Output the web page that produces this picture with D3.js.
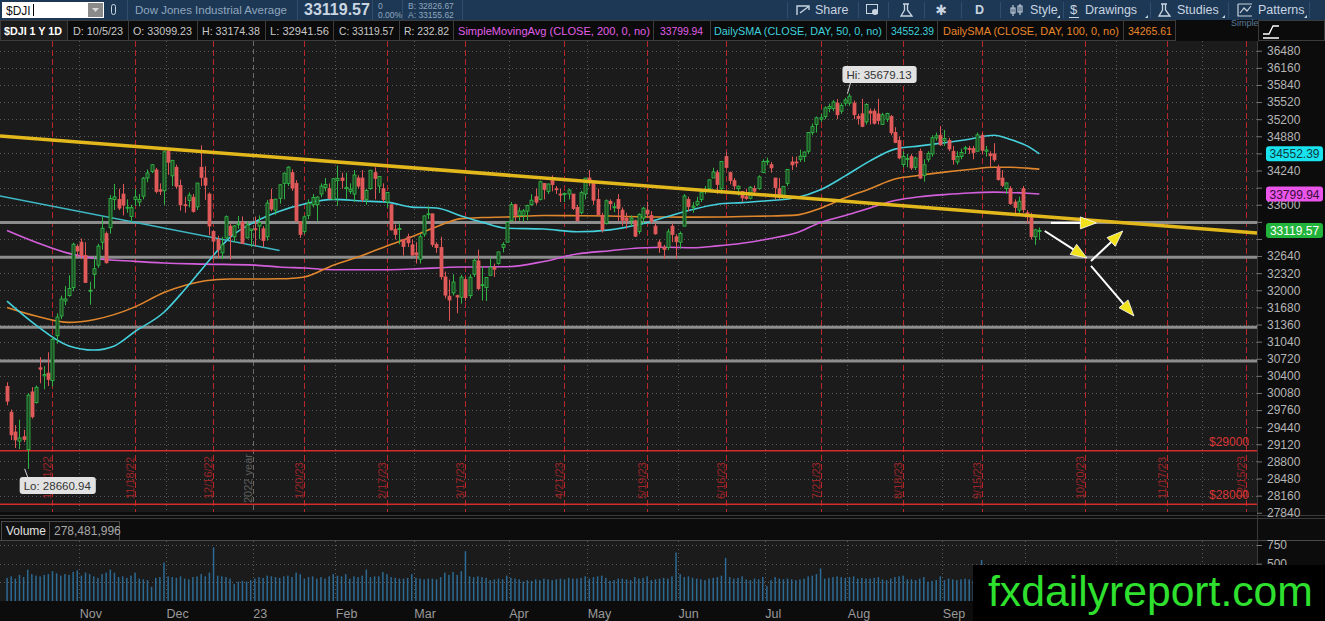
<!DOCTYPE html>
<html>
<head>
<meta charset="utf-8">
<script src="https://cdn.jsdelivr.net/npm/d3@7"></script>
<style>
body { margin: 0; background: #0b0b0b; overflow: hidden; }
svg { display: block; font-family: "Liberation Sans", Arial, sans-serif; }
</style>
</head>
<body>
<div id="chart-area"></div>
<script>
/*
*    $DJI 1Y daily chart
*/

// Daily bars [open, high, low, close], one array per month
var oct22 = [[30200,30280,29850,29927],[29720,29770,29200,29297],[29350,29480,29050,29203],[29180,29580,29030,29239],[29260,29390,29160,29211],[29020,30080,28660.94,30039],[30100,30190,29600,29635],[29900,30220,29880,30186],[30550,30750,30260,30524],[30400,30580,30150,30424],[30450,30840,30210,30334],[30310,31120,30200,31083],[31150,31570,31000,31500],[31520,31900,31460,31837],[31800,32080,31720,31839],[31900,32280,31880,32033],[32050,32890,31980,32862],[32820,32860,32620,32733]];
var nov22 = [[32900,32970,32580,32653],[32650,32900,32140,32148],[32000,32160,31730,32001],[32300,32620,32030,32403],[32470,32870,32420,32827],[32900,33380,32760,33161],[33060,33100,32500,32514],[33170,33780,33060,33715],[33700,33990,33500,33748],[33700,33900,33500,33537],[33800,33990,33400,33593],[33550,33700,33450,33554],[33380,33600,33280,33546],[33700,33890,33580,33746],[33650,33800,33570,33700],[33760,34120,33700,34098],[34100,34260,34020,34194],[34220,34360,34190,34347],[34250,34290,33810,33849],[33880,34000,33780,33853],[33860,34600,33600,34590]];
var dec22 = [[34600,34600,34160,34395],[34140,34440,33950,34430],[34300,34350,33900,33947],[33960,34070,33490,33596],[33600,33750,33450,33598],[33680,33830,33550,33781],[33740,33800,33450,33476],[33560,34010,33500,34005],[34300,34712,33950,34109],[34100,34320,33690,33966],[33800,33830,33030,33202],[33100,33130,32570,32920],[32950,33020,32600,32758],[32700,33000,32580,32850],[32980,33400,32960,33376],[33200,33250,32570,33027],[33000,33220,32900,33204],[33230,33390,33150,33242],[33270,33380,32870,32876],[32980,33290,32970,33221],[33120,33140,32810,33147]];
var jan23 = [[33150,33380,32820,33136],[33200,33400,32960,33270],[33150,33200,32810,32930],[33000,33690,32930,33631],[33700,33900,33480,33518],[33500,33710,33410,33704],[33720,33980,33620,33973],[34000,34200,33700,34190],[34000,34320,33950,34303],[34200,34260,33860,33911],[34000,34060,33290,33297],[33280,33290,32980,33045],[33100,33400,33050,33375],[33400,33700,33330,33630],[33600,33800,33550,33734],[33600,33760,33300,33744],[33800,34000,33740,33949],[33920,34100,33850,33978],[33900,34000,33700,33717],[33700,34090,33700,34086]];
var feb23 = [[34050,34330,33580,34093],[34100,34200,33900,34054],[33900,34200,33700,33926],[33850,34000,33800,33891],[33800,34250,33650,34157],[34100,34150,33900,33949],[34100,34250,33650,33700],[33700,33900,33600,33869],[33900,34250,33880,34246],[34200,34300,33700,34089],[33950,34130,33820,34128],[33900,34000,33650,33697],[33650,33830,33540,33827],[33600,33600,33120,33130],[33140,33230,32950,33045],[33150,33250,32860,33154],[32950,32950,32650,32817],[33000,33060,32810,32889],[32850,32950,32650,32657]];
var mar23 = [[32700,32900,32500,32662],[32580,33050,32500,33004],[33050,33400,33000,33391],[33420,33570,33330,33431],[33430,33430,32810,32856],[32860,32900,32700,32798],[32800,33000,32200,32255],[32250,32350,31850,31910],[31890,32200,31430,31819],[31950,32300,31900,32155],[31900,31920,31570,31875],[31870,32290,31750,32247],[32200,32250,31800,31862],[31900,32300,31850,32245],[32300,32600,32250,32561],[32550,32760,32000,32030],[32100,32450,31810,32105],[32050,32250,31800,32238],[32280,32600,32280,32432],[32430,32500,32250,32394],[32500,32720,32480,32718],[32800,32900,32710,32859],[32900,33280,32900,33274]];
var apr23 = [[33300,33650,33300,33601],[33600,33620,33300,33402],[33400,33550,33300,33483],[33400,33520,33280,33485],[33480,33600,33310,33587],[33600,33800,33580,33685],[33750,33900,33600,33647],[33700,34050,33680,34030],[34000,34000,33700,33886],[33850,34000,33800,33987],[34050,34150,33850,33977],[33900,33950,33800,33897],[33800,33900,33650,33787],[33800,33830,33650,33809],[33800,33900,33700,33875],[33800,33800,33500,33531],[33550,33600,33290,33302],[33450,33860,33420,33826],[33800,34100,33700,34098]];
var may23 = [[34100,34250,33950,34052],[34000,34050,33600,33685],[33700,33900,33400,33414],[33400,33450,33080,33128],[33250,33700,33230,33674],[33660,33700,33500,33619],[33560,33640,33460,33562],[33700,33800,33300,33531],[33500,33550,33200,33310],[33350,33450,33150,33301],[33300,33400,33200,33349],[33300,33320,33000,33012],[33100,33440,33050,33421],[33350,33560,33250,33536],[33500,33660,33350,33427],[33400,33480,33250,33287],[33200,33250,33040,33056],[32900,32950,32700,32800],[32800,32850,32590,32765],[32800,33150,32750,33093],[33200,33250,32900,33043],[33000,33050,32590,32908]];
var jun23 = [[32900,33100,32780,33062],[33200,33800,33200,33763],[33700,33750,33480,33563],[33550,33650,33450,33573],[33600,33750,33570,33665],[33700,33850,33650,33834],[33850,33950,33800,33877],[33900,34070,33850,34066],[34100,34290,34100,34212],[34200,34250,33800,33979],[33900,34420,33800,34408],[34500,34590,34280,34299],[34200,34220,33980,34054],[34050,34100,33880,33952],[33900,33960,33770,33947],[33850,33850,33660,33727],[33750,33900,33690,33715],[33720,33950,33700,33927],[33900,33960,33780,33853],[33900,34150,33880,34122],[34200,34450,34200,34408]];
var jul23 = [[34400,34480,34340,34418],[34350,34400,34200,34289],[34100,34100,33700,33922],[33900,34100,33700,33735],[33750,33950,33700,33944],[34000,34270,33950,34261],[34400,34500,34250,34347],[34400,34500,34300,34395],[34450,34630,34400,34509],[34500,34600,34400,34585],[34600,34960,34550,34952],[34950,35120,34900,35061],[35100,35250,34950,35225],[35200,35300,35150,35228],[35250,35440,35200,35411],[35400,35490,35330,35438],[35400,35560,35350,35520],[35500,35578,35200,35283],[35350,35500,35300,35459],[35500,35600,35450,35560]];
var aug23 = [[35500,35679.13,35450,35631],[35500,35550,35200,35283],[35250,35300,35100,35216],[35300,35580,35050,35066],[35150,35500,35100,35473],[35350,35400,35100,35314],[35350,35400,35100,35123],[35300,35580,35100,35176],[35100,35320,35100,35281],[35200,35320,35150,35308],[35250,35280,34900,34946],[34950,35050,34750,34766],[34800,34880,34450,34475],[34350,34600,34300,34501],[34450,34550,34300,34464],[34500,34550,34250,34289],[34300,34500,34250,34473],[34600,34650,34080,34099],[34150,34450,34030,34347],[34450,34600,34400,34560],[34550,34900,34500,34853],[34850,34950,34800,34890],[34900,35070,34700,34722]];
var sep23 = [[34800,35000,34700,34838],[34800,34850,34600,34642],[34600,34700,34350,34443],[34400,34600,34350,34501],[34500,34650,34450,34577],[34650,34700,34550,34664],[34650,34700,34550,34646],[34650,34700,34450,34576],[34600,34950,34600,34907],[34900,34950,34550,34618],[34600,34700,34500,34624],[34550,34600,34300,34518],[34550,34750,34400,34441],[34300,34350,34050,34070],[34100,34250,33930,33964],[33900,34020,33800,34007],[33900,33950,33600,33619],[33650,33700,33400,33550],[33500,33750,33450,33666],[33900,33950,33450,33508]];
var oct23 = [[33450,33500,33250,33433],[33400,33450,32950,33002],[33000,33150,32850,33130],[33099.23,33174.38,32941.56,33119.57]];

// Volume, millions of shares
var volOct22 = [310,330,300,350,320,420,360,340,330,350,360,400,370,340,360,350,390,410];
var volNov22 = [340,380,360,330,310,360,380,420,380,320,330,310,340,380,300,290,280,190,310,320,515];
var volDec22 = [330,320,310,330,300,290,320,330,360,330,380,718,340,330,320,300,230,260,270,260,280];
var volJan23 = [300,320,310,340,330,320,310,330,340,320,380,360,300,320,330,300,320,300,330,360];
var volFeb23 = [340,330,360,300,330,320,340,420,320,330,330,390,360,320,310,300,300,310,360];
var volMar23 = [310,300,290,300,300,290,320,380,350,390,350,400,667,330,320,330,320,310,280,290,300,290,340];
var volApr23 = [310,300,290,260,280,270,290,280,300,290,280,290,300,290,310,300,300,310,330];
var volMay23 = [300,320,330,340,310,270,280,300,300,290,280,320,300,310,330,280,290,300,310,300,330,650];
var volJun23 = [360,320,330,310,300,290,280,300,310,320,340,577,320,300,310,330,290,280,300,290,320];
var volJul23 = [200,280,320,300,290,300,290,280,290,300,330,340,360,436,300,310,320,330,320,310];
var volAug23 = [320,330,300,310,300,300,310,320,290,280,300,320,330,340,290,290,280,300,320,260,270,280,330];
var volSep23 = [280,300,290,280,290,300,290,280,300,550,300,290,330,340,330,300,310,320,320,340];
var volOct23 = [300,330,290,278.481996];

// Moving averages [date, value]
var sma200 = [["2022-10-06",33120],["2022-10-17",32900],["2022-10-27",32690],["2022-11-04",32600],["2022-11-18",32540],["2022-11-30",32510],["2022-12-14",32490],["2023-01-03",32470],["2023-01-11",32435],["2023-01-20",32416],["2023-01-31",32385],["2023-02-17",32385],["2023-02-28",32397],["2023-03-16",32435],["2023-03-31",32440],["2023-04-14",32540],["2023-04-26",32680],["2023-05-08",32740],["2023-05-17",32790],["2023-05-26",32805],["2023-06-06",32795],["2023-06-14",32830],["2023-06-23",32880],["2023-07-05",32970],["2023-07-13",33070],["2023-07-21",33270],["2023-07-31",33400],["2023-08-08",33540],["2023-08-16",33680],["2023-08-24",33750],["2023-09-01",33790],["2023-09-12",33820],["2023-09-20",33835],["2023-09-26",33830],["2023-10-02",33815],["2023-10-05",33799.94]];
var sma50 = [["2022-10-06",31798],["2022-10-17",31350],["2022-10-27",30960],["2022-11-04",30883],["2022-11-11",30960],["2022-11-18",31230],["2022-11-30",31590],["2022-12-07",32010],["2022-12-14",32470],["2022-12-22",32990],["2023-01-03",33280],["2023-01-11",33480],["2023-01-20",33615],["2023-01-31",33700],["2023-02-09",33670],["2023-02-17",33649],["2023-02-28",33556],["2023-03-08",33540],["2023-03-16",33390],["2023-03-23",33275],["2023-03-31",33160],["2023-04-14",33145],["2023-04-26",33095],["2023-05-08",33130],["2023-05-17",33230],["2023-05-26",33380],["2023-06-06",33510],["2023-06-14",33610],["2023-06-23",33640],["2023-07-05",33680],["2023-07-13",33730],["2023-07-21",33880],["2023-07-31",34140],["2023-08-08",34420],["2023-08-16",34640],["2023-08-24",34700],["2023-09-01",34760],["2023-09-12",34825],["2023-09-20",34900],["2023-09-26",34820],["2023-10-02",34700],["2023-10-05",34552.39]];
var sma100 = [["2022-10-06",31680],["2022-10-17",31520],["2022-10-27",31400],["2022-11-04",31450],["2022-11-18",31690],["2022-11-30",31960],["2022-12-07",32090],["2022-12-14",32180],["2022-12-22",32210],["2023-01-03",32210],["2023-01-11",32215],["2023-01-20",32250],["2023-01-31",32470],["2023-02-09",32650],["2023-02-17",32830],["2023-02-28",33000],["2023-03-08",33190],["2023-03-16",33340],["2023-03-23",33360],["2023-03-31",33370],["2023-04-14",33400],["2023-04-26",33395],["2023-05-08",33388],["2023-05-17",33375],["2023-05-26",33370],["2023-06-06",33368],["2023-06-14",33370],["2023-06-23",33380],["2023-07-05",33390],["2023-07-13",33405],["2023-07-21",33535],["2023-07-31",33730],["2023-08-08",33900],["2023-08-16",34080],["2023-08-24",34150],["2023-09-01",34210],["2023-09-12",34260],["2023-09-20",34300],["2023-09-26",34300],["2023-10-02",34285],["2023-10-05",34265.61]];

// Drawings
var yellowTrend = [["2022-10-06",34876],["2023-10-05",33384]];
var cyanTrend = [["2022-10-06",33737],["2023-01-11",32743]];
var supportLevels = [33270, 32620, 31310, 30680];
var priceAlerts = [29000, 28000];
// arrows: [bars after last, price, bars after last, price]
var arrowMoves = [[2.8,33260,13.8,33260],[1.3,33109,11.5,32604],[12.5,32548,20.2,33109],[12.5,32455,22.9,31520]];

var expiries = ["2022-10-21","2022-11-18","2022-12-16","2023-01-20","2023-02-17","2023-03-17","2023-04-21","2023-05-19","2023-06-16","2023-07-21","2023-08-18","2023-09-15","2023-10-20","2023-11-17","2023-12-15"];
var holidays = ["2022-11-24","2022-12-26","2023-01-02","2023-01-16","2023-02-20","2023-04-07","2023-05-29","2023-06-19","2023-07-04","2023-09-04","2023-11-23","2023-12-25"];
var priceTicks = [27840,28160,28480,28800,29120,29440,29760,30080,30400,30720,31040,31360,31680,32000,32320,32640,32960,33280,33600,33920,34240,34560,34880,35200,35520,35840,36160,36480];
var volTicks = [500, 750];
var monthNames = ["Jan","Feb","Mar","Apr","May","Jun","Jul","Aug","Sep","Oct","Nov","Dec"];

var headerItems = ["$DJI 1 Y 1D", "D: 10/5/23", "O: 33099.23", "H: 33174.38", "L: 32941.56", "C: 33119.57", "R: 232.82",
  "SimpleMovingAvg (CLOSE, 200, 0, no)", "33799.94", "DailySMA (CLOSE, DAY, 50, 0, no)", "34552.39", "DailySMA (CLOSE, DAY, 100, 0, no)", "34265.61"];
var toolItems = ["Share", "D", "Style", "Drawings", "Studies", "Patterns"];

// ---------------------------------------------------------------
var width = 1325, height = 621;
var paneR = 1257, paneT = 41, paneB = 512, volT = 541, volB = 601;

var days = [];
for (var d = new Date(Date.UTC(2022, 9, 6)); d <= new Date(Date.UTC(2023, 11, 29)); d.setUTCDate(d.getUTCDate() + 1)) {
  var wd = d.getUTCDay(), s = d.toISOString().slice(0, 10);
  if (wd === 0 || wd === 6 || holidays.indexOf(s) >= 0) continue;
  days.push(s);
}
var dayIndex = new Map(days.map((s, i) => [s, i]));

var bars = [].concat(oct22, nov22, dec22, jan23, feb23, mar23, apr23, may23, jun23, jul23, aug23, sep23, oct23)
  .map((b, i) => ({ i: i, o: b[0], h: b[1], l: b[2], c: b[3] }));
var vols = [].concat(volOct22, volNov22, volDec22, volJan23, volFeb23, volMar23, volApr23, volMay23, volJun23, volJul23, volAug23, volSep23, volOct23);
var last = bars[bars.length - 1];

var svg = d3.select("#chart-area").append("svg").attr("width", width).attr("height", height);

// Scales
var x = d3.scaleLinear().domain([-1.7, 302.7]).range([0, paneR]);
var y = d3.scaleLinear().domain([27854, 36662]).range([paneB, paneT]);
var yv = d3.scaleLinear().domain([0, 750]).range([volB, 545]);

// Backgrounds
svg.append("rect").attr("width", width).attr("height", height).attr("fill", "#0c0c0c");
svg.append("rect").attr("width", width).attr("height", 20).attr("fill", "#1d3855");
svg.append("rect").attr("y", 20).attr("width", width).attr("height", 21).attr("fill", "#0b0b0b");
svg.append("rect").attr("y", paneT).attr("width", paneR).attr("height", paneB - paneT).attr("fill", "#1b1b1b");
svg.append("rect").attr("y", volT).attr("width", paneR).attr("height", volB - volT).attr("fill", "#1b1b1b");
svg.append("line").attr("x1", 0).attr("x2", width).attr("y1", 515.5).attr("y2", 515.5).attr("stroke", "#3a3a3a");
svg.append("line").attr("x1", 0).attr("x2", width).attr("y1", 518.5).attr("y2", 518.5).attr("stroke", "#3a3a3a");
svg.append("line").attr("x1", 0).attr("x2", width).attr("y1", volT - 0.5).attr("y2", volT - 0.5).attr("stroke", "#4a4a4a");
svg.append("line").attr("x1", paneR + 0.5).attr("x2", paneR + 0.5).attr("y1", paneT).attr("y2", volB).attr("stroke", "#3a3a3a");

svg.append("clipPath").attr("id", "pane").append("rect").attr("y", paneT).attr("width", paneR).attr("height", paneB - paneT);
var g = svg.append("g").attr("clip-path", "url(#pane)");

// Grid
g.selectAll(".hgrid").data(priceTicks).enter().append("line")
  .attr("x1", 0).attr("x2", paneR).attr("y1", (p) => Math.round(y(p)) + 0.5).attr("y2", (p) => Math.round(y(p)) + 0.5)
  .attr("stroke", "#5a5a5a").attr("stroke-dasharray", "1,3");

var monthStarts = [];
days.forEach((s, i) => {
  if (i > 0 && s.slice(5, 7) !== days[i - 1].slice(5, 7)) {
    var m = +s.slice(5, 7);
    monthStarts.push({ i: i, label: m === 1 ? s.slice(2, 4) : monthNames[m - 1], year: m === 1 });
  }
});
monthStarts.forEach((m) => {
  var mx = Math.round(x(m.i - 0.5)) + 0.5;
  if (!m.year) {
    g.append("line").attr("x1", mx).attr("x2", mx).attr("y1", paneT).attr("y2", paneB).attr("stroke", "#5a5a5a").attr("stroke-dasharray", "1,3");
  } else {
    g.append("line").attr("x1", mx).attr("x2", mx).attr("y1", paneT).attr("y2", paneB).attr("stroke", "#6a6a6a").attr("stroke-dasharray", "5,3");
    g.append("text").attr("transform", "translate(" + (mx - 2) + ",503) rotate(-90)").attr("font-size", "11px").attr("fill", "#5e5e5e").text("2022 year");
  }
  svg.append("line").attr("x1", mx).attr("x2", mx).attr("y1", volT).attr("y2", volB).attr("stroke", "#5a5a5a").attr("stroke-dasharray", "1,3");
});

[250, 500, 750].forEach((v) => {
  svg.append("line").attr("x1", 0).attr("x2", paneR).attr("y1", Math.round(yv(v)) + 0.5).attr("y2", Math.round(yv(v)) + 0.5)
    .attr("stroke", "#5a5a5a").attr("stroke-dasharray", "1,3");
});

// Option expiry lines
expiries.forEach((e) => {
  var ex = Math.round(x(dayIndex.get(e))) + 0.5;
  g.append("line").attr("x1", ex).attr("x2", ex).attr("y1", paneT).attr("y2", paneB).attr("stroke", "#b8262b").attr("stroke-dasharray", "6,3");
  var p = e.split("-");
  g.append("text").attr("transform", "translate(" + (ex - 2) + ",499) rotate(-90)").attr("font-size", "11px").attr("fill", "#9c2428")
    .text(+p[1] + "/" + +p[2] + "/" + p[0].slice(2));
});

// Price alerts
priceAlerts.forEach((p) => {
  g.append("line").attr("x1", 0).attr("x2", paneR).attr("y1", y(p)).attr("y2", y(p)).attr("stroke", "#d42b2b").attr("stroke-width", 1.5);
  g.append("text").attr("x", 1249).attr("y", y(p) - 5).attr("text-anchor", "end").attr("font-size", "12px").attr("fill", "#d93535").text("$" + p);
});

// Support lines
supportLevels.forEach((p) => {
  g.append("line").attr("x1", 0).attr("x2", paneR).attr("y1", y(p)).attr("y2", y(p)).attr("stroke", "#8d8d8d").attr("stroke-width", 3);
});

// Moving averages
var maLine = d3.line().x((d) => x(dayIndex.get(d[0]))).y((d) => y(d[1])).curve(d3.curveMonotoneX);
[[sma200, "#d45fdc"], [sma100, "#e0862c"], [sma50, "#45d0dc"]].forEach((s) => {
  g.append("path").datum(s[0]).attr("d", maLine).attr("fill", "none").attr("stroke", s[1]).attr("stroke-width", 1.6);
});

// Trend lines
function trendAt(t, idx) {
  var i0 = dayIndex.get(t[0][0]), i1 = dayIndex.get(t[1][0]);
  return t[0][1] + (t[1][1] - t[0][1]) * (idx - i0) / (i1 - i0);
}
var cy0 = x.domain()[0], cy1 = dayIndex.get(cyanTrend[1][0]);
g.append("line").attr("x1", x(cy0)).attr("y1", y(trendAt(cyanTrend, cy0))).attr("x2", x(cy1)).attr("y2", y(trendAt(cyanTrend, cy1)))
  .attr("stroke", "#3db8c4").attr("stroke-width", 1.5);

// Candles
var candle = g.selectAll(".candle").data(bars).enter().append("g");
candle.append("line").attr("x1", (d) => Math.round(x(d.i)) + 0.5).attr("x2", (d) => Math.round(x(d.i)) + 0.5)
  .attr("y1", (d) => y(d.h)).attr("y2", (d) => y(d.l))
  .attr("stroke", (d) => d.c >= d.o ? "#2fb344" : "#e05555");
candle.append("rect").attr("x", (d) => Math.round(x(d.i)) - 1)
  .attr("y", (d) => y(Math.max(d.o, d.c))).attr("width", 3)
  .attr("height", (d) => Math.max(1, Math.abs(y(d.o) - y(d.c))))
  .attr("fill", (d) => d.c >= d.o ? "#1d4a25" : "#e05a5a")
  .attr("stroke", (d) => d.c >= d.o ? "#32bf48" : "#e05a5a").attr("stroke-width", 0.8);

var xl = x.domain()[0], xr = x.domain()[1];
g.append("line").attr("x1", x(xl)).attr("y1", y(trendAt(yellowTrend, xl))).attr("x2", x(xr)).attr("y2", y(trendAt(yellowTrend, xr)))
  .attr("stroke", "#e3b81c").attr("stroke-width", 3.5);

// Arrows
arrowMoves.forEach((a) => {
  var x1 = x(last.i + a[0]), y1 = y(a[1]), x2 = x(last.i + a[2]), y2 = y(a[3]);
  var ang = Math.atan2(y2 - y1, x2 - x1), hl = 16, hw = 6;
  var bx = x2 - hl * Math.cos(ang), by = y2 - hl * Math.sin(ang);
  g.append("line").attr("x1", x1).attr("y1", y1).attr("x2", bx).attr("y2", by).attr("stroke", "#ffffff").attr("stroke-width", 2);
  var pts = [[x2, y2], [bx - hw * Math.sin(ang), by + hw * Math.cos(ang)], [bx + hw * Math.sin(ang), by - hw * Math.cos(ang)]];
  g.append("polygon").attr("points", pts.map((p) => p.join(",")).join(" ")).attr("fill", "#f2e21c").attr("stroke", "#ffffff").attr("stroke-width", 0.8);
});

// Hi / Lo bubbles
var hiBar = bars.reduce((a, b) => b.h > a.h ? b : a);
var loBar = bars.reduce((a, b) => b.l < a.l ? b : a);
function bubble(bx, tipY, boxY, text) {
  svg.append("line").attr("x1", bx).attr("y1", tipY).attr("x2", bx + 3).attr("y2", boxY < tipY ? boxY + 17 : boxY).attr("stroke", "#d8d8d8");
  var t = svg.append("text").attr("x", bx - 1).attr("y", boxY + 13).attr("font-size", "11.5px").attr("fill", "#333").text(text);
  var w = t.node().getComputedTextLength();
  svg.insert("rect", () => t.node()).attr("x", bx - 5).attr("y", boxY).attr("width", w + 9).attr("height", 17).attr("rx", 3).attr("fill", "#e2e2e2");
}
bubble(x(hiBar.i) - 2, y(hiBar.h), 66, "Hi: " + d3.format(".2f")(hiBar.h));
bubble(x(loBar.i) - 3, y(loBar.l), 477, "Lo: " + d3.format(".2f")(loBar.l));

// Volume
svg.selectAll(".vol").data(vols).enter().append("rect")
  .attr("x", (v, i) => x(i) - 0.7).attr("width", 1.5)
  .attr("y", (v) => yv(v)).attr("height", (v) => volB - yv(v)).attr("fill", "#2c6a94");

// Price tags (axis labels under a tag are hidden, as on the platform)
var tags = [[34552.39, "#19e3ee", "#0d3a40"], [33799.94, "#ea55ea", "#3a0d3a"], [last.c, "#22b33c", "#ffffff"]];
var tagY = tags.map((t) => y(t[0]));

// Right price axis
var yAxisGroup = svg.append("g").attr("transform", "translate(" + paneR + ",0)")
  .call(d3.axisRight(y).tickValues(priceTicks).tickSize(5).tickPadding(5).tickFormat(d3.format("d")));
yAxisGroup.select(".domain").remove();
yAxisGroup.selectAll("line").attr("stroke", "#777");
yAxisGroup.selectAll("text").attr("fill", "#b5b5b5").attr("font-size", "12px").attr("font-family", "Liberation Sans, Arial")
  .attr("display", (p) => tagY.some((ty) => Math.abs(ty - y(p)) < 10) ? "none" : null);

var vAxis = svg.append("g").attr("transform", "translate(" + paneR + ",0)")
  .call(d3.axisRight(yv).tickValues(volTicks).tickSize(5).tickPadding(5));
vAxis.select(".domain").remove();
vAxis.selectAll("line").attr("stroke", "#777");
vAxis.selectAll("text").attr("fill", "#b5b5b5").attr("font-size", "12px").attr("font-family", "Liberation Sans, Arial");

tags.forEach((t, k) => {
  svg.append("rect").attr("x", 1266).attr("y", tagY[k] - 7.5).attr("width", 57).attr("height", 15).attr("rx", 3).attr("fill", t[1]);
  svg.append("text").attr("x", 1294.5).attr("y", tagY[k] + 4.5).attr("text-anchor", "middle").attr("font-size", "12px").attr("fill", t[2]).text(d3.format(".2f")(t[0]));
});

// Month labels (up to the last bar; the rest sit under the watermark)
var shownMonths = monthStarts.filter((m) => m.i <= last.i - 6);
var xAxisGroup = svg.append("g").attr("transform", "translate(0," + 603 + ")")
  .call(d3.axisBottom(x).tickValues(shownMonths.map((m) => m.i - 0.5)).tickSize(0).tickFormat((v, k) => shownMonths[k].label));
xAxisGroup.select(".domain").remove();
xAxisGroup.selectAll("text").attr("text-anchor", "start").attr("fill", "#9a9a9a").attr("font-size", "12.5px").attr("font-family", "Liberation Sans, Arial").attr("dy", "0.95em");

// Volume header
svg.append("rect").attr("x", 1.5).attr("y", 521.5).attr("width", 48).attr("height", 19).attr("fill", "#111").attr("stroke", "#4a4a4a");
svg.append("rect").attr("x", 49.5).attr("y", 521.5).attr("width", 70).attr("height", 19).attr("fill", "#111").attr("stroke", "#4a4a4a");
svg.append("text").attr("x", 6).attr("y", 535).attr("font-size", "12px").attr("fill", "#e0e0e0").text("Volume");
svg.append("text").attr("x", 54).attr("y", 535).attr("font-size", "12px").attr("fill", "#a8a8a8").text(d3.format(",")(Math.round(vols[vols.length - 1] * 1e6)));

// Fit helper
function fit(t, target) {
  var len = t.node().getComputedTextLength();
  if (len > 0) t.attr("font-size", (parseFloat(t.attr("font-size")) * target / len).toFixed(2) + "px");
  return t;
}

// Study header row: [cell left, cell right, text left, text width]
var headerCells = [[0, 67, 4, 58], [67, 128, 73, 50], [128, 197, 133, 59], [197, 265, 202, 58], [265, 333, 270, 59], [333, 399, 339, 55], [399, 453, 404, 45],
  [453, 653, 458, 192], [653, 710, 660, 43], [710, 886, 714, 168], [886, 937, 891, 43], [937, 1123, 943, 176], [1123, 1175, 1128, 44]];
var headerColors = ["#ffffff", "#c8c8c8", "#c8c8c8", "#c8c8c8", "#c8c8c8", "#c8c8c8", "#c8c8c8", "#e05ee6", "#e05ee6", "#3fd0dc", "#3fd0dc", "#e8862a", "#e8862a"];
headerItems.forEach((txt, k) => {
  var c = headerCells[k];
  svg.append("rect").attr("x", c[0] + 0.5).attr("y", 20.5).attr("width", c[1] - c[0]).attr("height", 20)
    .attr("fill", k === 0 ? "#1c1c1c" : "#0b0b0b").attr("stroke", "#3c3c3c");
  var t = svg.append("text").attr("x", c[2]).attr("y", 35).attr("font-size", "12px").attr("fill", headerColors[k])
    .attr("font-weight", k === 0 ? "bold" : "normal").text(txt);
  fit(t, c[3]);
});
svg.append("text").attr("x", 1231).attr("y", 26).attr("font-size", "9px").attr("fill", "#5a7a9a").text("Simple");
svg.append("rect").attr("x", 1258.5).attr("y", 20.5).attr("width", 66).attr("height", 20).attr("fill", "#0b0b0b").attr("stroke", "#3c3c3c");
svg.append("path").attr("d", "M1263,34 L1269,34 L1273,26 L1279,26 M1263,38 L1279,38").attr("stroke", "#ffffff").attr("fill", "none").attr("stroke-width", 1.3);

// Top toolbar
svg.append("rect").attr("x", 2).attr("y", 2).attr("width", 102).attr("height", 16).attr("fill", "#ffffff");
svg.append("text").attr("x", 6).attr("y", 14.5).attr("font-size", "12px").attr("fill", "#111").text("$DJI");
svg.append("line").attr("x1", 33.5).attr("x2", 33.5).attr("y1", 4).attr("y2", 16).attr("stroke", "#000");
svg.append("rect").attr("x", 88).attr("y", 3).attr("width", 15).attr("height", 14).attr("fill", "#8a8a8a");
svg.append("path").attr("d", "M92,8 L99,8 L95.5,12 Z").attr("fill", "#d8d8d8");
svg.append("rect").attr("x", 111.5).attr("y", 4.5).attr("width", 4).attr("height", 10).attr("rx", 2).attr("fill", "none").attr("stroke", "#c8d4e0");
[127, 297, 372, 402, 462].forEach((sx) => svg.append("line").attr("x1", sx + 0.5).attr("x2", sx + 0.5).attr("y1", 0).attr("y2", 20).attr("stroke", "#2f4d6c"));
fit(svg.append("text").attr("x", 135).attr("y", 14).attr("font-size", "12.5px").attr("fill", "#8fa6bd").text("Dow Jones Industrial Average"), 152);
fit(svg.append("text").attr("x", 304).attr("y", 15).attr("font-size", "15px").attr("font-weight", "bold").attr("fill", "#c9d6e2").text(d3.format(".2f")(last.c)), 66);
svg.append("text").attr("x", 378).attr("y", 9).attr("font-size", "8.5px").attr("fill", "#8fa6bd").text("0");
svg.append("text").attr("x", 378).attr("y", 17.5).attr("font-size", "8.5px").attr("fill", "#8fa6bd").text("0.00%");
svg.append("text").attr("x", 408).attr("y", 9).attr("font-size", "8.5px").attr("fill", "#8fa6bd").text("B: 32826.67");
svg.append("text").attr("x", 408).attr("y", 17.5).attr("font-size", "8.5px").attr("fill", "#8fa6bd").text("A: 33155.62");

var toolPos = [815, 975, 1030, 1085, 1177, 1258];
toolItems.forEach((txt, k) => {
  svg.append("text").attr("x", toolPos[k]).attr("y", 14).attr("font-size", "12.5px").attr("fill", "#c8d4e0")
    .attr("font-weight", txt === "D" ? "bold" : "normal").text(txt);
});
[787, 858, 888, 924, 961, 1000, 1063, 1150, 1228, 1309].forEach((sx) => svg.append("line").attr("x1", sx + 0.5).attr("x2", sx + 0.5).attr("y1", 2).attr("y2", 18).attr("stroke", "#2f4d6c"));
// toolbar icons
svg.append("path").attr("d", "M797,15 L797,6 L805,6 M800,13 L808,7 M804,6 L809,6 L809,10").attr("stroke", "#c8d4e0").attr("fill", "none").attr("stroke-width", 1.4);
svg.append("rect").attr("x", 866.5).attr("y", 4.5).attr("width", 11).attr("height", 9).attr("fill", "none").attr("stroke", "#c8d4e0");
svg.append("circle").attr("cx", 875).attr("cy", 12).attr("r", 3).attr("fill", "#c8d4e0");
svg.append("path").attr("d", "M903,4 L909,4 M904.5,4 L904.5,10 L901,16 L912,16 L907.5,10 L907.5,4").attr("stroke", "#c8d4e0").attr("fill", "none").attr("stroke-width", 1.3);
svg.append("text").attr("x", 941).attr("y", 15).attr("text-anchor", "middle").attr("font-size", "14px").attr("font-family", "DejaVu Sans").attr("fill", "#c8d4e0").text("\u2731");
svg.append("path").attr("d", "M1013,5 L1013,16 M1011,8 h4 v5 h-4 z M1020,4 L1020,15 M1018,6 h4 v6 h-4 z").attr("stroke", "#c8d4e0").attr("fill", "none").attr("stroke-width", 1.1);
svg.append("text").attr("x", 1070).attr("y", 14).attr("font-size", "13px").attr("fill", "#c8d4e0").text("$");
svg.append("line").attr("x1", 1069).attr("x2", 1079).attr("y1", 17.5).attr("y2", 17.5).attr("stroke", "#c8d4e0");
svg.append("path").attr("d", "M1161,4 L1167,4 M1162.5,4 L1162.5,10 L1159,16 L1170,16 L1165.5,10 L1165.5,4").attr("stroke", "#c8d4e0").attr("fill", "none").attr("stroke-width", 1.3);
svg.append("path").attr("d", "M1238,4 h14 M1238,4 v12 h14 M1240,13 L1244,8 L1247,11 L1251,6").attr("stroke", "#c8d4e0").attr("fill", "none").attr("stroke-width", 1.2);
[1057, 1145, 1222, 1304].forEach((cx) => svg.append("path").attr("d", "M" + cx + ",18 l3,0 l0,-3 z").attr("fill", "#c8d4e0"));

// Watermark
svg.append("rect").attr("x", 973).attr("y", 565).attr("width", 352).attr("height", 56).attr("fill", "#000");
fit(svg.append("text").attr("x", 988).attr("y", 606).attr("font-size", "44px").attr("fill", "#2fe02f").attr("font-family", "Liberation Sans, Arial").text("fxdailyreport.com"), 325);
</script>
</body>
</html>
